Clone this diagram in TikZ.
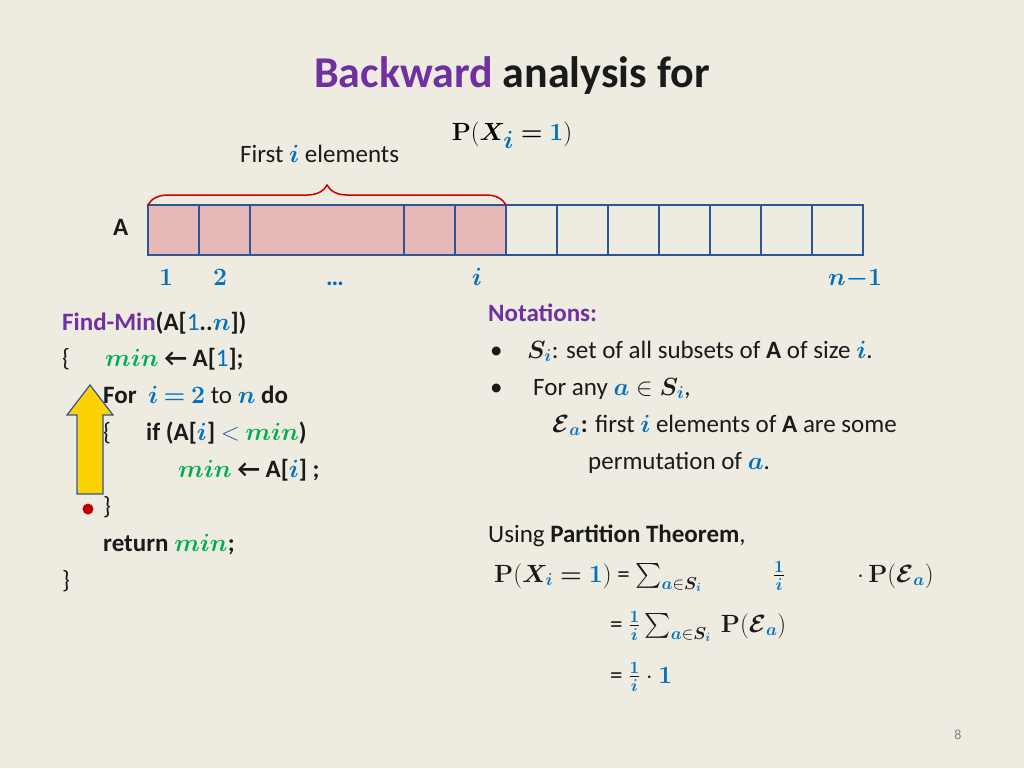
\documentclass[tikz,border=0pt]{standalone}
\usepackage{amsmath,bm}
\usepackage[no-math]{fontspec}
\setmainfont{Carlito}
\usetikzlibrary{decorations.pathreplacing}
\definecolor{bg}{HTML}{EEECE1}
\definecolor{pur}{HTML}{7030A0}
\definecolor{bl}{HTML}{0070C0}
\definecolor{gr}{HTML}{00B050}
\definecolor{cellb}{HTML}{2F5597}
\definecolor{pinkc}{HTML}{E6B9B8}
\definecolor{txt}{HTML}{1A1A1A}
\newcommand{\B}[1]{\textcolor{bl}{\bm{#1}}}
\newcommand{\G}[1]{\textcolor{gr}{\bm{#1}}}
\newcommand{\Sm}{\sum\nolimits}
\tikzset{x=1pt,y=-1pt,
 t/.style={font=\fontsize{25}{29}\selectfont,text=txt,inner sep=0pt,anchor=base west},
 cell/.style={draw=cellb,line width=1.5pt}}
\begin{document}
\begin{tikzpicture}
\fill[bg] (0,0) rectangle (1024,768);
\useasboundingbox (0,0) rectangle (1024,768);
\node[anchor=base,inner sep=0pt,font=\fontsize{44}{48}\selectfont\bfseries] (title) at (512,87) {\textcolor{pur}{Backward} \textcolor{txt}{analysis for}};
\node[anchor=base,inner sep=0pt,font=\fontsize{46}{50}\selectfont] (title2) at (512,140) {$\mathbf{P}(\bm{X}_{\B{i}}\bm{=}\B{1})$};
\node[t] (first) at (240,162) {First $\B{i}$ elements};
% cells
\fill[pinkc] (148,205) rectangle (506,255);
\foreach \a/\b in {148/199,199/250,250/404,404/455,455/506,506/557,557/608,608/659,659/710,710/761,761/812,812/863}
  \draw[cell] (\a,205) rectangle (\b,255);
\coordinate (bl) at (148,205); \coordinate (br) at (506,205);
\draw[red!80!black,line width=1.5pt,decorate,decoration={brace,amplitude=20pt,aspect=0.5}] (bl) -- (br);
\node[t] (A) at (113,235) {\bfseries A};
\foreach \x/\l in {166/1,220/2,477/i}
  \node[anchor=base,inner sep=0pt,font=\fontsize{25}{29}\selectfont] at (\x,285) {$\B{\l}$};
\node[anchor=base,inner sep=0pt,font=\fontsize{25}{29}\selectfont] (dots) at (335,285) {\textcolor{bl}{\bfseries …}};
\node[anchor=base,inner sep=0pt,font=\fontsize{25}{29}\selectfont] (nm) at (855,285) {$\B{n}\textcolor{bl}{\bm{-}}\B{1}$};
% code
\node[t] (c1) at (62,330) {\bfseries\textcolor{pur}{Find-Min}(A[\textcolor{bl}{\mdseries 1}..$\B{n}$])};
\node[t] (c2) at (62,366) {\{};
\node[t] (c2b) at (105,366) {$\G{min}$ \bfseries ← A[\textcolor{bl}{\mdseries 1}];};
\node[t] (c3) at (103,403) {\bfseries For\ \ $\B{i}\ \textcolor{bl}{\bm{=}}\ \B{2}$ \mdseries to \bfseries$\B{n}$ do};
\node[t] (c4) at (103,440) {\{};
\node[t] (c4b) at (146,440) {\bfseries if (A[$\B{i}$] $\textcolor{cellb}{<}$ $\G{min}$)};
\node[t] (c5) at (178,477) {$\G{min}$ \bfseries ← A[$\B{i}$] ;};
\node[t] (c6) at (103,514) {\}};
\node[t] (c7) at (103,551) {\bfseries return $\G{min}$;};
\node[t] (c8) at (62,588) {\}};
\fill[yellow!70!orange,draw=cellb,line width=1.2pt] (77,494) -- (77,415) -- (67,415) -- (90,385) -- (113,415) -- (103,415) -- (103,494) -- cycle;
\fill[red!75!black] (88,509) circle (5.5);
% notations
\node[t] (n0) at (488,321) {\bfseries\textcolor{pur}{Notations:}};
\node[t] (n1) at (490,358) {•};
\node[t] (n1b) at (527,358) {$\bm{S}_{\B{i}}$: set of all subsets of \textbf{A} of size $\B{i}$.};
\node[t] (n2) at (490,395) {•};
\node[t] (n2b) at (533,395) {For any $\B{a}\in \bm{S}_{\B{i}}$,};
\node[t] (n3) at (552,432) {$\bm{\mathcal{E}}_{\B{a}}$\textbf{:} first $\B{i}$ elements of \textbf{A} are some};
\node[t] (n4) at (588,469) {permutation of $\B{a}$.};
\node[t] (u) at (488,542) {Using \textbf{Partition Theorem},};
\node[t] (f1) at (494,582) {$\mathbf{P}(\bm{X}_{\B{i}}\bm{=}\B{1})$ = $\Sm_{\B{a}\in \bm{S}_{\B{i}}}$};
\node[anchor=base,inner sep=0pt,font=\fontsize{25}{29}\selectfont] (f1b) at (779,582) {$\frac{\B{1}}{\B{i}}$};
\node[t] (f1c) at (857,582) {$\cdot\,\mathbf{P}(\bm{\mathcal{E}}_{\B{a}})$};
\node[t] (f2) at (610,632) {= $\frac{\B{1}}{\B{i}}\Sm_{\B{a}\in \bm{S}_{\B{i}}}\ \mathbf{P}(\bm{\mathcal{E}}_{\B{a}})$};
\node[t] (f3) at (610,683) {= $\frac{\B{1}}{\B{i}}\cdot \B{1}$};
\node[anchor=base,inner sep=0pt,font=\fontsize{14}{16}\selectfont,text=gray] (pg) at (958,739) {8};
\end{tikzpicture}
\end{document}
